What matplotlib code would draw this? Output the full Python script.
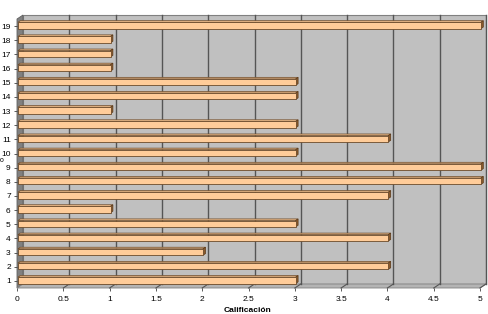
import matplotlib
matplotlib.use('Agg')
import matplotlib.pyplot as plt
from matplotlib.patches import Polygon
from matplotlib.lines import Line2D
from matplotlib.transforms import IdentityTransform

students = [str(i) for i in range(1, 20)]
scores = [3, 4, 2, 4, 3, 1, 4, 5, 5, 3, 4, 3, 1, 3, 3, 1, 1, 1, 5]
xticks = [0, 0.5, 1, 1.5, 2, 2.5, 3, 3.5, 4, 4.5, 5]
xticklabels = ['0', '0.5', '1', '1.5', '2', '2.5', '3', '3.5', '4', '4.5', '5']
xtitle = 'Calificación'

plt.rcParams['font.family'] = ['Liberation Sans', 'DejaVu Sans']

W, H = 489, 314
fig = plt.figure(figsize=(W / 100, H / 100), dpi=100)
fig.patch.set_facecolor('white')
x0, x1 = 17, 480
ytop, ybot = 19, 288
ax = fig.add_axes([x0 / W, (H - ybot) / H, (x1 - x0) / W, (ybot - ytop) / H])
ax.set_xlim(0, 5)
ax.set_ylim(0.5, 19.5)
ax.set_facecolor('none')
for s in ax.spines.values():
    s.set_visible(False)
ax.set_autoscale_on(False)

DX, DY = 6, 4


def P(x, y, d):
    px, py = ax.transData.transform((x, y))
    return (px + d * DX, py + d * DY)


def poly(pts, fc, ec='none', lw=0.6, z=1):
    ax.add_patch(Polygon(pts, closed=True, facecolor=fc, edgecolor=ec, lw=lw,
                         transform=IdentityTransform(), clip_on=False, zorder=z))


ymin, ymax = 0.5, 19.5
# back wall
poly([P(0, ymin, 1), P(5, ymin, 1), P(5, ymax, 1), P(0, ymax, 1)], '#c0c0c0', '#808080', 0.8, 1)
# left wall
poly([P(0, ymin, 0), P(0, ymin, 1), P(0, ymax, 1), P(0, ymax, 0)], '#808080', '#606060', 0.6, 1.1)
# floor
poly([P(0, ymin, 0), P(5, ymin, 0), P(5, ymin, 1), P(0, ymin, 1)], '#b4b4b4', '#808080', 0.6, 1.1)

# gridlines
for v in xticks[1:]:
    a, b = P(v, ymin, 1), P(v, ymax, 1)
    ax.add_line(Line2D([a[0], b[0]], [a[1], b[1]], color='#555555', lw=1.0,
                       transform=IdentityTransform(), clip_on=False, zorder=1.2))
    c = P(v, ymin, 0)
    ax.add_line(Line2D([c[0], a[0]], [c[1], a[1]], color='#555555', lw=0.8,
                       transform=IdentityTransform(), clip_on=False, zorder=1.2))

# bars
h = 0.45
d0, d1 = 0.15, 0.55
for i, val in enumerate(scores):
    yc = i + 1
    yb, yt = yc - h / 2, yc + h / 2
    # top face
    poly([P(0, yt, d0), P(val, yt, d0), P(val, yt, d1), P(0, yt, d1)], '#e8b888', '#6b4a2a', 0.5, 2)
    # right face
    poly([P(val, yb, d0), P(val, yb, d1), P(val, yt, d1), P(val, yt, d0)], '#8b5a2b', '#5a3a1a', 0.5, 2)
    # front face
    poly([P(0, yb, d0), P(val, yb, d0), P(val, yt, d0), P(0, yt, d0)], '#ffcc99', '#6b4a2a', 0.6, 2.1)

ax.set_yticks(range(1, 20))
ax.set_yticklabels(students, fontsize=6)
ax.set_xticks(xticks)
ax.set_xticklabels(xticklabels, fontsize=6)
ax.tick_params(axis='y', length=2.5, width=0.6, color='#404040', pad=2)
ax.tick_params(axis='x', length=2.5, width=0.6, color='#404040', pad=3)

fig.text(248 / W, 1 - 310 / H, xtitle, ha='center', va='center', fontsize=6, fontweight='bold')
fig.text(1.5 / W, 1 - 161 / H, 'o', ha='center', va='center', fontsize=5)

fig.savefig('out.png', dpi=100)
